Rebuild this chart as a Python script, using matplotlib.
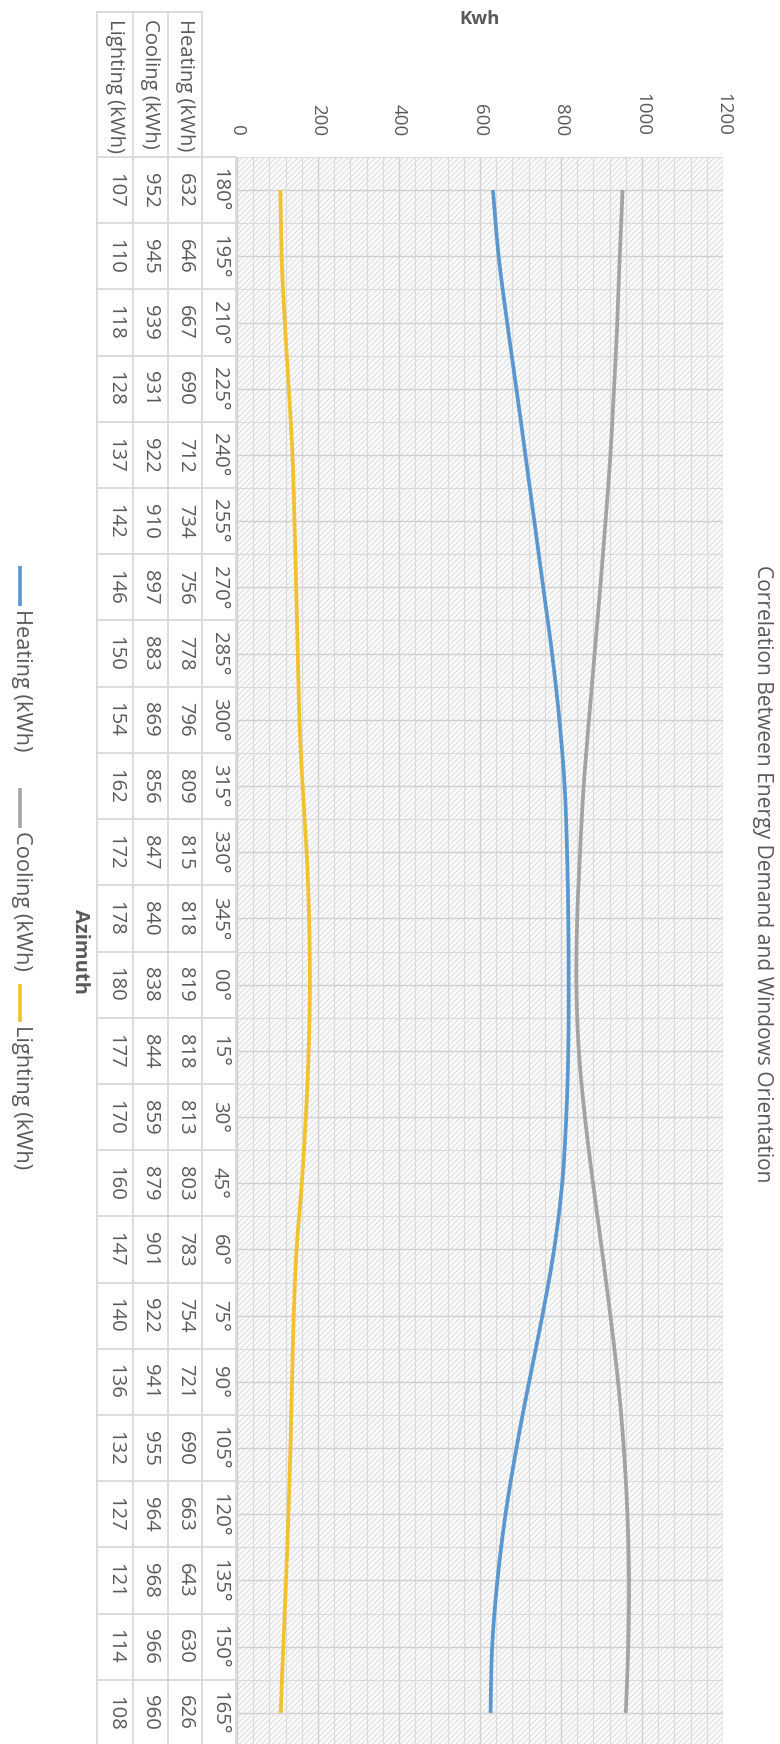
import numpy as np
import matplotlib
matplotlib.use("Agg")
import matplotlib.pyplot as plt
from matplotlib.lines import Line2D
from matplotlib.patches import Rectangle
from matplotlib import transforms

# ---- data ----
azimuth = ["180°", "195°", "210°", "225°", "240°", "255°", "270°", "285°",
           "300°", "315°", "330°", "345°", "00°", "15°", "30°", "45°",
           "60°", "75°", "90°", "105°", "120°", "135°", "150°", "165°"]
heating = [632, 646, 667, 690, 712, 734, 756, 778, 796, 809, 815, 818,
           819, 818, 813, 803, 783, 754, 721, 690, 663, 643, 630, 626]
cooling = [952, 945, 939, 931, 922, 910, 897, 883, 869, 856, 847, 840,
           838, 844, 859, 879, 901, 922, 941, 955, 964, 968, 966, 960]
lighting = [107, 110, 118, 128, 137, 142, 146, 150, 154, 162, 172, 178,
            180, 177, 170, 160, 147, 140, 136, 132, 127, 121, 114, 108]
series_names = ["Heating (kWh)", "Cooling (kWh)", "Lighting (kWh)"]
series_colors = ["#5a96cf", "#a3a3a3", "#f2c12e"]
value_ticks = [0, 200, 400, 600, 800, 1000, 1200]
title = "Correlation Between Energy Demand and Windows Orientation"

W, H, DPI = 780, 1744, 100
TEXT = "#595959"
GRIDC = "#d9d9d9"

plt.rcParams["font.family"] = ["Open Sans", "DejaVu Sans"]
plt.rcParams["hatch.color"] = "#d6d6d6"
plt.rcParams["hatch.linewidth"] = 0.6

fig = plt.figure(figsize=(W / DPI, H / DPI), dpi=DPI)
fig.patch.set_facecolor("white")


def fx(px):
    return px / W


def fy(py):
    return 1 - py / H


# ---- plot area (value axis runs left->right, categories run top->bottom) ----
L, R, T, B = 237, 723, 157, 1746
ax = fig.add_axes([fx(L), fy(B), fx(R) - fx(L), fy(T) - fy(B)])
n = len(azimuth)
ax.set_xlim(0, 1200)
ax.set_ylim(n - 0.5, -0.5)
for s in ax.spines.values():
    s.set_visible(False)
ax.set_xticks(value_ticks)
ax.set_xticks(np.arange(0, 1201, 40), minor=True)
ax.set_yticks(np.arange(n))
ax.set_yticks(np.arange(-0.5, n, 1.0), minor=True)
ax.tick_params(which="both", length=0, labelbottom=False, labelleft=False)
ax.set_axisbelow(True)
ax.grid(which="major", color="#d0d0d0", lw=1.0)
ax.grid(which="minor", color="#dadada", lw=0.8)
ax.patch.set_facecolor("#fbfbfb")
ax.add_patch(Rectangle((0, 0), 1, 1, transform=ax.transAxes, facecolor="#fbfbfb",
                       edgecolor="#d6d6d6", hatch="//////", lw=0, zorder=0.2))


def smooth(vals, steps=16):
    """Catmull-Rom style Bezier smoothing through (index, value) points."""
    pts = np.column_stack([np.arange(len(vals), dtype=float), np.asarray(vals, float)])
    ext = np.vstack([pts[0], pts, pts[-1]])
    out = [pts[0]]
    t = np.linspace(0, 1, steps + 1)[1:, None]
    for i in range(len(pts) - 1):
        p0, p1, p2, p3 = ext[i], ext[i + 1], ext[i + 2], ext[i + 3]
        c1 = p1 + (p2 - p0) / 6.0
        c2 = p2 - (p3 - p1) / 6.0
        seg = ((1 - t) ** 3) * p1 + 3 * ((1 - t) ** 2) * t * c1 + 3 * (1 - t) * t ** 2 * c2 + t ** 3 * p2
        out.extend(seg)
    out = np.array(out)
    return out[:, 0], out[:, 1]


for vals, col in zip([heating, cooling, lighting], series_colors):
    idx, v = smooth(vals)
    ax.plot(v, idx, color=col, lw=2.7, solid_capstyle="butt", zorder=3)

renderer = fig.canvas.get_renderer()


def fit(txt, target, along="v"):
    bb = txt.get_window_extent(renderer)
    cur = bb.height if along == "v" else bb.width
    if cur > 0:
        txt.set_fontsize(txt.get_fontsize() * target / cur)
    return txt.get_fontsize()


# ---- value-axis tick labels (above the plot, rotated) ----
xt = transforms.blended_transform_factory(ax.transData, fig.transFigure)
tick_txt = [fig.text(v, fy(136), str(v), transform=xt, rotation=-90, ha="center",
                     va="bottom", color=TEXT, fontsize=12) for v in value_ticks]
fs_tick = fit(tick_txt[5], 43)
for t in tick_txt:
    t.set_fontsize(fs_tick)

# value-axis title
kwh = fig.text(0.5, fy(19), "Kwh", transform=transforms.blended_transform_factory(ax.transAxes, fig.transFigure),
               ha="center", va="center", fontweight="bold", color=TEXT, fontsize=12)
fit(kwh, 40, along="h")

# ---- data table (left of the plot) ----
col_x = {"cat": 219, "Heating (kWh)": 185, "Cooling (kWh)": 150.5, "Lighting (kWh)": 115}
edges_x = [97, 133, 168, 202, 236]
tr = transforms.blended_transform_factory(fig.transFigure, ax.transData)
line_kw = dict(color=GRIDC, lw=1.3, zorder=1)

for k in np.arange(-0.5, n + 0.5, 1.0):
    fig.add_artist(Line2D([fx(edges_x[0]), fx(edges_x[-1])], [k, k], transform=tr, **line_kw))
for ex in edges_x[:-1]:
    fig.add_artist(Line2D([fx(ex), fx(ex)], [fy(12), fy(H + 5)], transform=fig.transFigure, **line_kw))
fig.add_artist(Line2D([fx(236), fx(236)], [fy(T), fy(H + 5)], transform=fig.transFigure, **line_kw))
fig.add_artist(Line2D([fx(97), fx(202)], [fy(12), fy(12)], transform=fig.transFigure, **line_kw))

hdr = [fig.text(fx(col_x[name]), fy(19), name, rotation=-90, ha="center", va="top",
                color=TEXT, fontsize=12) for name in series_names]
fs_tab = fit(hdr[0], 132)
for t in hdr:
    t.set_fontsize(fs_tab)

for name, vals in zip(series_names, [heating, cooling, lighting]):
    for i, v in enumerate(vals):
        fig.text(fx(col_x[name]), i, str(v), transform=tr, rotation=-90, ha="center",
                 va="center", color=TEXT, fontsize=fs_tab)
for i, a in enumerate(azimuth):
    fig.text(fx(col_x["cat"]), i, a, transform=tr, rotation=-90, ha="center",
             va="center", color=TEXT, fontsize=fs_tab)

# category-axis title
az = fig.text(fx(80), 0.5, "Azimuth", transform=transforms.blended_transform_factory(fig.transFigure, ax.transAxes),
              rotation=-90, ha="center", va="center", fontweight="bold", color=TEXT, fontsize=12)
fit(az, 85)

# ---- legend (far left, rotated) ----
leg_rows = [(566, 606, 609), (788, 828, 831), (984, 1022, 1025)]
leg_txt = []
for (l0, l1, t0), name, col in zip(leg_rows, series_names, series_colors):
    fig.add_artist(Line2D([fx(20), fx(20)], [fy(l0), fy(l1)], transform=fig.transFigure,
                          color=col, lw=2.6, solid_capstyle="butt"))
    leg_txt.append(fig.text(fx(21), fy(t0), name, rotation=-90, ha="center", va="top",
                            color=TEXT, fontsize=12))
fs_leg = fit(leg_txt[0], 142)
for t in leg_txt:
    t.set_fontsize(fs_leg)

# ---- chart title (right edge, rotated) ----
ttl = fig.text(fx(763), fy(874), title, rotation=-90, ha="center", va="center",
               color=TEXT, fontsize=14)
fit(ttl, 622)

fig.savefig("out.png", dpi=DPI, facecolor="white")
